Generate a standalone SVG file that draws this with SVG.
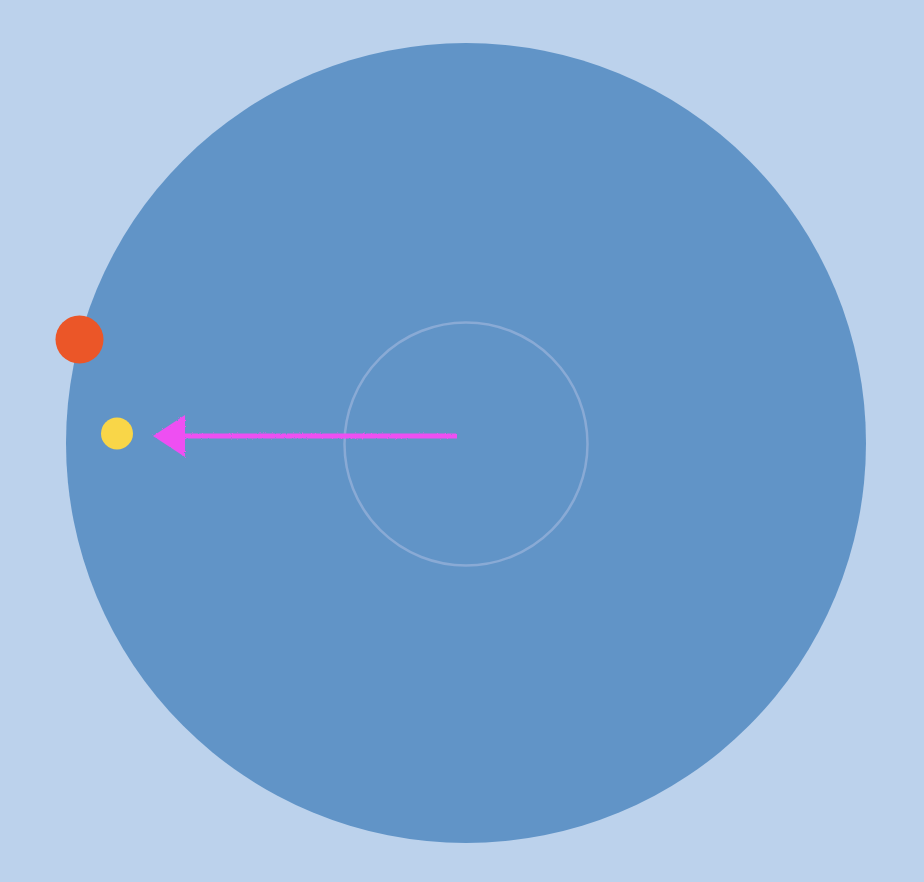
<svg xmlns="http://www.w3.org/2000/svg" width="924" height="882" viewBox="0 0 924 882">
<style>
.conn{stroke:#EE4FF2;stroke-width:5;fill:none}
</style>
<defs>
<filter id="rough" x="-10%" y="-50%" width="120%" height="200%">
<feTurbulence type="fractalNoise" baseFrequency="0.8" numOctaves="2" seed="3"/>
<feDisplacementMap in="SourceGraphic" scale="2.5"/>
</filter>
</defs>
<rect width="924" height="882" fill="#BCD2EC"/>
<g id="outer"><circle cx="466" cy="443" r="400" fill="#6194C7"/></g>
<g id="inner"><circle cx="466" cy="444" r="121.5" fill="none" stroke="#89AAD5" stroke-width="2.5"/></g>
<g id="orange"><circle cx="79.5" cy="339.5" r="24" fill="#EB5628"/></g>
<g id="yellow"><circle cx="117" cy="433.5" r="16" fill="#F9D648"/></g>
<g id="connectors" filter="url(#rough)">
<line class="conn" x1="457" y1="436" x2="180" y2="436"/>
<polygon points="153,436 185,415 185,457" fill="#EE4FF2"/>
</g>
</svg>
